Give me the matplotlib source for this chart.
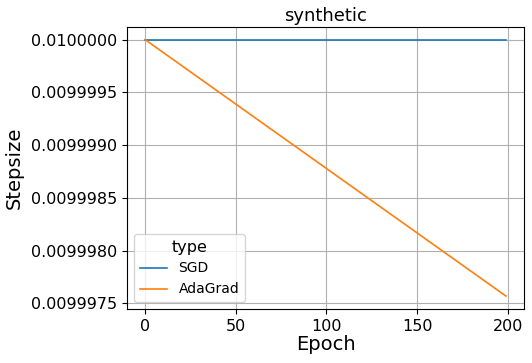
import matplotlib
matplotlib.use('Agg')
import matplotlib.pyplot as plt
from matplotlib.ticker import FormatStrFormatter

# values
epoch = [0, 199]
sgd_step = [0.0100000, 0.0100000]
adagrad_step = [0.0100000, 0.00999757]

fig = plt.figure(figsize=(5.32, 3.63), dpi=100)
ax = fig.add_axes([0.239, 0.149, 0.746, 0.777])

ax.plot(epoch, sgd_step, color='#1f77b4', linewidth=1.2, label='SGD')
ax.plot(epoch, adagrad_step, color='#ff7f0e', linewidth=1.2, label='AdaGrad')

ax.set_xticks([0, 50, 100, 150, 200])
ax.set_yticks([0.0099975, 0.0099980, 0.0099985, 0.0099990, 0.0099995, 0.0100000])
ax.yaxis.set_major_formatter(FormatStrFormatter('%.7f'))
ax.tick_params(labelsize=11.5)
ax.set_xlabel('Epoch', fontsize=14, labelpad=1)
ax.set_ylabel('Stepsize', fontsize=14, labelpad=5)
ax.set_title('synthetic', fontsize=13, pad=4)
ax.grid(True)
ax.legend(title='type', fontsize=10, title_fontsize=11.5, loc='lower left')

fig.savefig('out.png', dpi=100)
